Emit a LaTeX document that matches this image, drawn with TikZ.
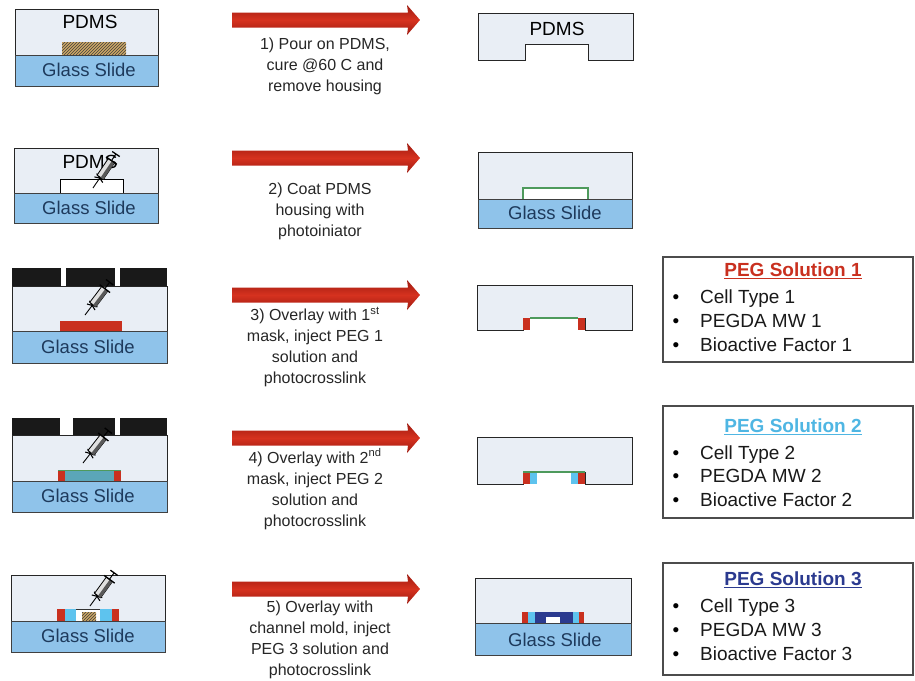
\documentclass[tikz,border=0pt]{standalone}
\usepackage{fontspec}
\setmainfont{Liberation Sans}
\usetikzlibrary{patterns}

\definecolor{pdms}{HTML}{E9EEF5}
\definecolor{glass}{HTML}{8FC3EA}
\definecolor{glasstext}{HTML}{1E3A5C}
\definecolor{pegred}{HTML}{C9301F}
\definecolor{pegteal}{HTML}{5BA6B8}
\definecolor{peglight}{HTML}{5EC3EE}
\definecolor{pegdark}{HTML}{2B3A8F}
\definecolor{arrowred}{HTML}{D6321F}
\definecolor{arrowdark}{HTML}{9E1A10}
\definecolor{hatchtan}{HTML}{CDA765}
\definecolor{linegreen}{HTML}{4E9A5C}
\definecolor{titleblue}{HTML}{4FB6E3}

\tikzset{
  pdmsbody/.style={fill=pdms, draw=black!85, line width=0.9pt},
  glassbody/.style={fill=glass, draw=black!75, line width=0.9pt},
  maskpart/.style={fill=black!90},
  slidetext/.style={font=\fontsize{18.5}{20}\selectfont, text=glasstext},
  pdmstext/.style={font=\fontsize{19}{20}\selectfont, text=black},
  steptext/.style={align=center, font=\fontsize{16}{21}\selectfont, text=black!85},
  infobox/.style={draw=black!70, line width=1.2pt, fill=white},
  infotitle/.style={font=\bfseries\fontsize{19}{22}\selectfont},
  bulletmark/.style={font=\fontsize{19}{22}\selectfont, anchor=base, inner sep=0pt},
  bullettext/.style={font=\fontsize{19}{22}\selectfont, anchor=base west, inner sep=0pt, text=black!90},
  pics/procarrow/.style={code={
    \shade[top color=arrowdark, bottom color=arrowdark, middle color=arrowred]
      (0,-7.5) -- (176,-7.5) -- (175,-15) -- (188,0) -- (175,15) -- (176,7.5) -- (0,7.5) -- cycle;
  }},
  pics/syringe/.style={code={
    % needle, hub, barrel, flange and plunger laid along +x
    \draw[line width=0.9pt] (0,0) -- (12,0);
    \draw[line width=1.1pt] (10,-5) -- (14,5);
    \draw[line width=1.1pt] (10,5) -- (14,-5);
    \draw[fill=black!12, line width=0.8pt] (13,-3.8) rectangle (33,3.8);
    \fill[black!65] (13,0.5) rectangle (33,3.8);
    \draw[line width=1.3pt] (33,-6.5) -- (33,6.5);
    \draw[line width=1pt] (33,0) -- (41,0);
    \draw[line width=1.3pt] (41,-4.5) -- (41,4.5);
  }}
}

\begin{document}
\begin{tikzpicture}[x=1pt,y=-1pt]
\useasboundingbox (0,0) rectangle (915,680);

% ---------- step 1 ----------
\draw[pdmsbody] (15,9) rectangle (158,55);
\draw[glassbody] (15,55) rectangle (158,86);
\fill[hatchtan] (62,42) rectangle (126,55);
\fill[pattern=north east lines, pattern color=black!75] (62,42) rectangle (126,55);
\node[pdmstext] (l1p) at (90,22) {PDMS};
\node[slidetext] (l1g) at (89,70) {Glass Slide};

\pic at (232,20) {procarrow};
\node[steptext] (t1) at (325,66) {1) Pour on PDMS,\\cure @60 C and\\remove housing};

\draw[pdmsbody] (478,13) -- (633,13) -- (633,60) -- (588,60) -- (588,44) -- (525,44) -- (525,60) -- (478,60) -- cycle;
\node[pdmstext] (r1p) at (557,29) {PDMS};

% ---------- step 2 ----------
\draw[pdmsbody] (14,148) rectangle (158,193);
\draw[glassbody] (14,193) rectangle (158,223);
\draw[fill=white, line width=0.8pt] (60,193) -- (60,179) -- (123,179) -- (123,193);
\node[pdmstext] (l2p) at (90,162) {PDMS};
\node[slidetext] (l2g) at (89,208) {Glass Slide};
\pic[rotate=56] at (93,188) {syringe};

\pic at (232,158) {procarrow};
\node[steptext] (t2) at (320,211) {2) Coat PDMS\\housing with\\photoiniator};

\draw[pdmsbody] (478,152) rectangle (632,199);
\draw[glassbody] (478,199) rectangle (632,228);
\draw[fill=white, draw=linegreen, line width=1.2pt] (523,199) -- (523,188) -- (588,188) -- (588,199);
\node[slidetext] (r2g) at (555,213) {Glass Slide};

% ---------- step 3 ----------
\fill[maskpart] (12,268) rectangle (61,286);
\fill[maskpart] (66,268) rectangle (115,286);
\fill[maskpart] (120,268) rectangle (167,286);
\draw[pdmsbody] (12,286) rectangle (167,331);
\draw[glassbody] (12,331) rectangle (167,363);
\fill[pegred] (60,321) rectangle (122,331);
\node[slidetext] (l3g) at (88,347) {Glass Slide};
\pic[rotate=53] at (85,315) {syringe};

\pic at (232,295) {procarrow};
\node[steptext] (t3) at (315,347) {3) Overlay with 1\textsuperscript{st}\\mask, inject PEG 1\\solution and\\photocrosslink};

\draw[pdmsbody] (477,285) -- (632,285) -- (632,330) -- (585,330) -- (585,318) -- (523,318) -- (523,330) -- (477,330) -- cycle;
\fill[pegred] (523,318) rectangle (530,330);
\fill[pegred] (578,318) rectangle (585,330);
\draw[linegreen, line width=1.2pt] (530,318) -- (578,318);

\node[infobox, minimum width=250pt, minimum height=105pt] (b1) at (788,309.5) {};
\node[infotitle, text=pegred] (b1t) at (793,271) {\underline{PEG Solution 1}};
\node[bulletmark] (b1a) at (676,303) {\textbullet};
\node[bulletmark] (b1b) at (676,327) {\textbullet};
\node[bulletmark] (b1c) at (676,351) {\textbullet};
\node[bullettext] (b1x) at (700,303) {Cell Type 1};
\node[bullettext] (b1y) at (700,327) {PEGDA MW 1};
\node[bullettext] (b1z) at (700,351) {Bioactive Factor 1};

% ---------- step 4 ----------
\fill[maskpart] (12,418) rectangle (60,435);
\fill[maskpart] (73,418) rectangle (115,435);
\fill[maskpart] (120,418) rectangle (167,435);
\draw[pdmsbody] (12,435) rectangle (167,481);
\draw[glassbody] (12,481) rectangle (167,512);
\fill[pegteal] (58,470) rectangle (121,481);
\fill[pegred] (58,470) rectangle (65,481);
\fill[pegred] (114,470) rectangle (121,481);
\draw[linegreen, line width=1pt] (58,470) -- (121,470);
\node[slidetext] (l4g) at (88,496) {Glass Slide};
\pic[rotate=52] at (83,463) {syringe};

\pic at (232,438) {procarrow};
\node[steptext] (t4) at (315,489) {4) Overlay with 2\textsuperscript{nd}\\mask, inject PEG 2\\solution and\\photocrosslink};

\draw[pdmsbody] (477,437) -- (632,437) -- (632,484) -- (585,484) -- (585,472) -- (523,472) -- (523,484) -- (477,484) -- cycle;
\fill[pegred] (523,472) rectangle (530,484);
\fill[peglight] (530,472) rectangle (537,484);
\fill[peglight] (571,472) rectangle (578,484);
\fill[pegred] (578,472) rectangle (585,484);
\draw[linegreen, line width=1.2pt] (523,472) -- (585,472);

\node[infobox, minimum width=250pt, minimum height=112pt] (b2) at (788,462) {};
\node[infotitle, text=titleblue] (b2t) at (793,427) {\underline{PEG Solution 2}};
\node[bulletmark] (b2a) at (676,459) {\textbullet};
\node[bulletmark] (b2b) at (676,482) {\textbullet};
\node[bulletmark] (b2c) at (676,506) {\textbullet};
\node[bullettext] (b2x) at (700,459) {Cell Type 2};
\node[bullettext] (b2y) at (700,482) {PEGDA MW 2};
\node[bullettext] (b2z) at (700,506) {Bioactive Factor 2};

% ---------- step 5 ----------
\draw[pdmsbody] (11,575) rectangle (165,621);
\draw[glassbody] (11,621) rectangle (165,652);
\fill[pegred] (57,609) rectangle (65,621);
\fill[peglight] (65,609) rectangle (76,621);
\fill[white] (76,609) rectangle (100,621);
\fill[peglight] (100,609) rectangle (112,621);
\fill[pegred] (112,609) rectangle (119,621);
\fill[hatchtan] (82,612) rectangle (96,621);
\fill[pattern=north east lines, pattern color=black!75] (82,612) rectangle (96,621);
\draw[black!80, line width=1pt] (76,609) -- (100,609);
\node[slidetext] (l5g) at (88,636) {Glass Slide};
\pic[rotate=54] at (90,606) {syringe};

\pic at (232,589) {procarrow};
\node[steptext] (t5) at (320,640) {5) Overlay with\\channel mold, inject\\PEG 3 solution and\\photocrosslink};

\draw[pdmsbody] (475,578) rectangle (631,623);
\draw[glassbody] (475,623) rectangle (631,655);
\fill[pegred] (522,612) rectangle (528,623);
\fill[peglight] (528,612) rectangle (535,623);
\fill[pegdark] (535,612) rectangle (573,623);
\fill[white] (546,617) rectangle (560,623);
\fill[peglight] (573,612) rectangle (579,623);
\fill[pegred] (579,612) rectangle (584,623);
\node[slidetext] (r5g) at (555,640) {Glass Slide};

\node[infobox, minimum width=250pt, minimum height=112pt] (b3) at (788,619) {};
\node[infotitle, text=pegdark] (b3t) at (793,580) {\underline{PEG Solution 3}};
\node[bulletmark] (b3a) at (676,612) {\textbullet};
\node[bulletmark] (b3b) at (676,636) {\textbullet};
\node[bulletmark] (b3c) at (676,660) {\textbullet};
\node[bullettext] (b3x) at (700,612) {Cell Type 3};
\node[bullettext] (b3y) at (700,636) {PEGDA MW 3};
\node[bullettext] (b3z) at (700,660) {Bioactive Factor 3};

\end{tikzpicture}
\end{document}
